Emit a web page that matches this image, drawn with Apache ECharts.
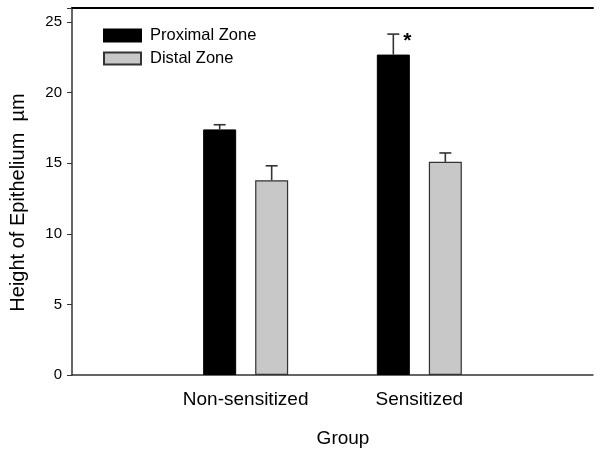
<!DOCTYPE html>
<html>
<head>
<meta charset="utf-8">
<script src="https://cdn.jsdelivr.net/npm/echarts@6/dist/echarts.min.js"></script>
<style>
html,body{margin:0;padding:0;background:#fff;}
#chart{width:596px;height:453px;}
</style>
</head>
<body>
<div id="chart"></div>
<script>
// ---- data ----
const categories = ['', 'Non-sensitized', 'Sensitized', ''];
const proximal = [null, 17.4, 22.7, null];
const proximalErr = [null, 0.33, 1.45, null];
const distal = [null, 13.8, 15.1, null];
const distalErr = [null, 1.02, 0.63, null];
const proximalSig = ['', '', '*', ''];
const distalSig = ['', '', '', ''];
const seriesNames = ['Proximal Zone', 'Distal Zone'];
const yTicks = [0, 5, 10, 15, 20, 25];

const FONT = 'Liberation Sans, Arial, Helvetica, sans-serif';
const BAR_W = 33;
const BAR_GAP_PX = 19;
const OFFSET = (BAR_W + BAR_GAP_PX) / 2;

function errSeries(values, errs, sig, dir) {
  return {
    type: 'custom',
    silent: true,
    z: 5,
    data: values.map((v, i) => [i, v, errs[i]]),
    renderItem: function (params, api) {
      const v = api.value(1);
      if (v === null || isNaN(v)) return null;
      const e = api.value(2);
      const idx = api.value(0);
      const base = api.coord([idx, v]);
      const top = api.coord([idx, v + e]);
      const x = base[0] + dir * OFFSET;
      const cap = 6;
      const st = { stroke: '#333', lineWidth: 1.6 };
      const children = [
        { type: 'line', shape: { x1: x, y1: base[1], x2: x, y2: top[1] }, style: st },
        { type: 'line', shape: { x1: x - cap, y1: top[1], x2: x + cap, y2: top[1] }, style: st }
      ];
      const s = sig[idx];
      if (s) {
        children.push({
          type: 'text',
          style: { text: s, x: x + cap + 4, y: top[1] - 3, fill: '#000', font: 'bold 21px ' + FONT, textAlign: 'left', textVerticalAlign: 'top' }
        });
      }
      return { type: 'group', children: children };
    }
  };
}

const chart = echarts.init(document.getElementById('chart'), null, { renderer: 'canvas' });
chart.setOption({
  animation: false,
  backgroundColor: '#fff',
  grid: { left: 72, right: 0, top: 8, bottom: 75, containLabel: false },
  legend: {
    left: 98, top: 22, orient: 'vertical', itemWidth: 37, itemHeight: 12, itemGap: 6,
    icon: 'rect',
    textStyle: { fontFamily: FONT, fontSize: 16.5, color: '#000', lineHeight: 14, padding: [0, 0, 0, 4] },
    data: seriesNames
  },
  xAxis: [{
    type: 'category', data: categories, boundaryGap: false,
    axisLine: { lineStyle: { color: '#333', width: 1.5 } },
    axisTick: { show: false },
    axisLabel: { color: '#000', fontFamily: FONT, fontSize: 19, margin: 15, interval: 0 },
    name: 'Group', nameLocation: 'middle', nameGap: 54,
    nameTextStyle: { color: '#000', fontFamily: FONT, fontSize: 19, padding: [0, 0, 0, 21] }
  }, {
    type: 'category', data: categories, boundaryGap: false, position: 'top',
    axisLine: { lineStyle: { color: '#000', width: 2 } },
    axisTick: { show: false }, axisLabel: { show: false }
  }],
  yAxis: {
    type: 'value', min: 0, max: 26, interval: 5,
    axisLine: { show: true, lineStyle: { color: '#333', width: 1.5 } },
    axisTick: { show: true, inside: false, length: 5, lineStyle: { color: '#333' } },
    splitLine: { show: false },
    axisLabel: { color: '#000', fontFamily: FONT, fontSize: 15, margin: 10,
      formatter: v => yTicks.indexOf(v) >= 0 ? String(v) : '' },
    name: 'Height of Epithelium  \u00b5m', nameLocation: 'middle', nameGap: 44,
    nameTextStyle: { color: '#000', fontFamily: FONT, fontSize: 20, padding: [0, 22, 0, 0] }
  },
  series: [
    {
      name: seriesNames[0], type: 'bar', data: proximal, barWidth: BAR_W,
      barGap: (BAR_GAP_PX / BAR_W * 100) + '%',
      itemStyle: { color: '#000', borderColor: '#000', borderWidth: 1 }
    },
    {
      name: seriesNames[1], type: 'bar', data: distal, barWidth: BAR_W,
      itemStyle: { color: '#c8c8c8', borderColor: '#333', borderWidth: 1.2 }
    },
    errSeries(proximal, proximalErr, proximalSig, -1),
    errSeries(distal, distalErr, distalSig, 1)
  ]
});
</script>
</body>
</html>
